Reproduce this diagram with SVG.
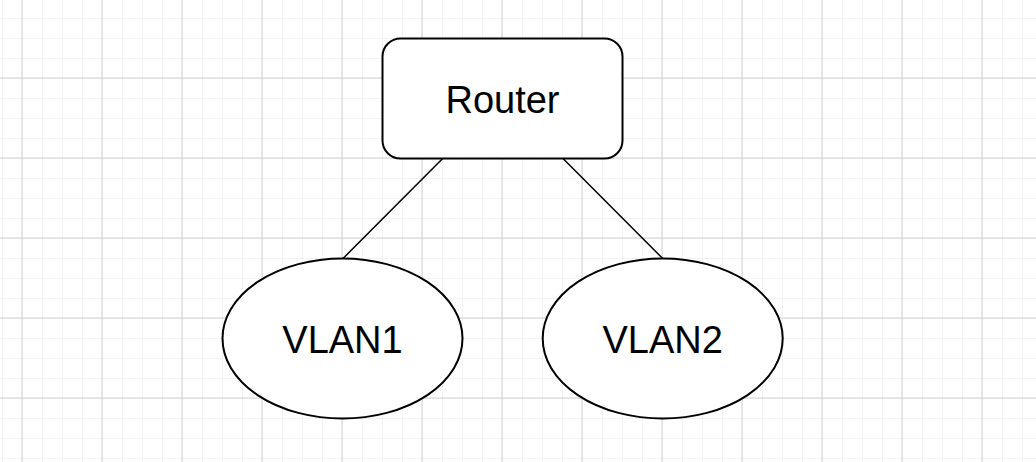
<svg xmlns="http://www.w3.org/2000/svg" width="1036" height="462" viewBox="0 0 1036 462">
<defs>
<pattern id="minor" x="2" y="18" width="20" height="20" patternUnits="userSpaceOnUse">
<path d="M0 0V20M0 0H20" fill="none" stroke="#f0f0f0" stroke-width="1.6"/>
</pattern>
<pattern id="major" x="22" y="78" width="80" height="80" patternUnits="userSpaceOnUse">
<path d="M0.5 0V80M0 0.5H80" fill="none" stroke="#d0d0d0" stroke-width="1"/>
</pattern>
</defs>
<style>
.shape{fill:#ffffff;stroke:#000000;stroke-width:2}
.edge{fill:none;stroke:#000000;stroke-width:1.5}
.label{font-family:"Liberation Sans",Arial,sans-serif;font-size:38px;fill:#000000;text-anchor:middle}
</style>
<rect width="1036" height="462" fill="#ffffff"/>
<rect width="1036" height="462" fill="url(#minor)"/>
<g transform="translate(-0.5,-0.5)"><rect width="1037" height="463" fill="url(#major)"/></g>
<g id="connectors">
<line class="edge" x1="442.7" y1="158.5" x2="343" y2="258.5"/>
<line class="edge" x1="563" y1="158.5" x2="662.7" y2="258.5"/>
</g>
<g id="router">
<rect class="shape" x="382.5" y="38.5" width="240" height="120" rx="18" ry="18"/>
<text class="label" x="502.5" y="112.5">Router</text>
</g>
<g id="vlan1">
<ellipse class="shape" cx="342.5" cy="338.5" rx="120" ry="80"/>
<text class="label" x="342.5" y="352.5">VLAN1</text>
</g>
<g id="vlan2">
<ellipse class="shape" cx="662.7" cy="338.5" rx="120" ry="80"/>
<text class="label" x="662.7" y="352.5">VLAN2</text>
</g>
</svg>
